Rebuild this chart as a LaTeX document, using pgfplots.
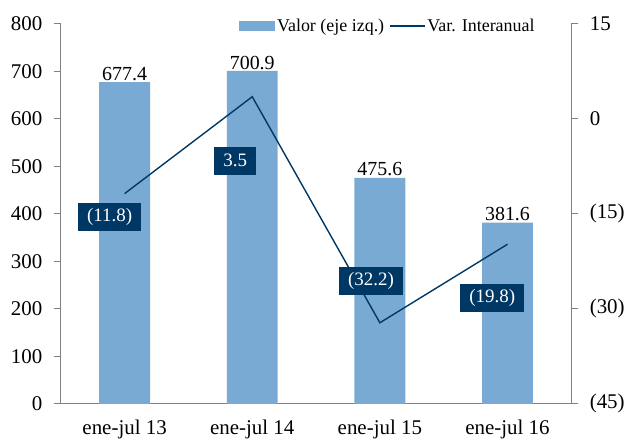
\documentclass[border=0pt]{standalone}
\usepackage{pgfplots}
\pgfplotsset{compat=1.18}
\usepackage{fontspec}
\setmainfont{Liberation Serif}
\definecolor{barblue}{RGB}{120,170,211}
\definecolor{navy}{RGB}{0,56,101}
\definecolor{axgray}{RGB}{128,128,128}
\begin{document}
\begin{tikzpicture}
\pgfplotsset{
  every axis/.append style={
    scale only axis, width=512pt, height=381pt,
    xmin=-0.5, xmax=3.5,
    /pgf/number format/assume math mode=true,
    tick label style={font=\fontsize{21}{24}\selectfont},
    axis line style={axgray, line width=1pt},
    major tick length=7pt,
    every tick/.style={axgray, line width=1pt},
    tick align=outside,
  }
}
\begin{axis}[
  ymin=0, ymax=800,
  axis y line*=left, axis x line*=bottom,
  ytick={0,100,...,800},
  xtick={0,1,2,3},
  xticklabels={ene-jul 13, ene-jul 14, ene-jul 15, ene-jul 16},
  x tick label style={yshift=-9pt, inner ysep=0pt},
  major x tick style={draw=none},
  extra x ticks={-0.5,0.5,1.5,2.5,3.5},
  extra x tick labels={},
  extra x tick style={tick style={axgray, line width=1pt}},
  yticklabel style={xshift=-8pt},
  nodes near coords,
  nodes near coords style={font=\fontsize{20}{22}\selectfont, black, inner sep=1.5pt, /pgf/number format/.cd, fixed, fixed zerofill, precision=1, assume math mode=true},
]
\addplot[ybar, bar width=51pt, fill=barblue, draw=none] coordinates {(0,677.4) (1,700.9) (2,475.6) (3,381.6)};
\end{axis}
\begin{axis}[
  ymin=-45, ymax=15,
  axis y line*=right, axis x line=none,
  ytick={-45,-30,-15,0,15},
  yticklabels={(45),(30),(15),0,15},
  yticklabel style={xshift=8pt},
  legend style={draw=none, fill=none, at={(0.349,0.995)}, anchor=west, legend columns=2,
    font=\fontsize{18}{20}\selectfont, inner sep=0pt, /tikz/every even column/.append style={column sep=3pt}},
  legend image code/.code={\draw[#1] (0pt,0pt) -- (35pt,0pt);},
]
\addlegendimage{area legend, fill=barblue, draw=none, legend image code/.code={\fill[barblue] (0pt,-5pt) rectangle (36pt,5pt);}}
\addlegendentry{Valor (eje izq.)}
\addplot[navy, line width=1.4pt, mark=none] coordinates {(0,-11.8) (1,3.5) (2,-32.2) (3,-19.8)};
\addlegendentry{Var. Interanual}
\tikzset{lab/.style={fill=navy, text=white, font=\fontsize{19}{21}\selectfont, inner xsep=9pt, inner ysep=2pt, minimum height=28pt}}
\node[lab] at (axis cs:-0.117,-15.55) {(11.8)};
\node[lab] at (axis cs:0.867,-6.6) {3.5};
\node[lab] at (axis cs:1.93,-25.6) {(32.2)};
\node[lab] at (axis cs:2.88,-28.3) {(19.8)};
\end{axis}
\path ([xshift=-61pt,yshift=24pt]current axis.north west) -- ([xshift=55pt,yshift=24pt]current axis.north east);
\end{tikzpicture}
\end{document}
